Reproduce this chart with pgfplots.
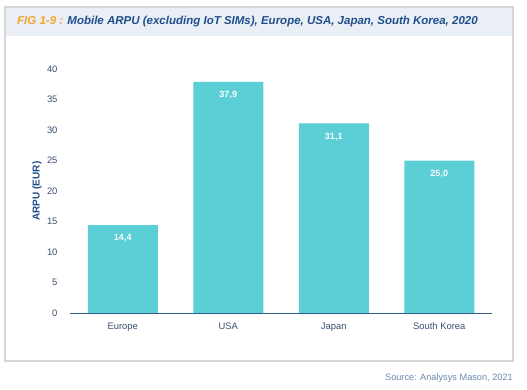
\documentclass[border=0pt]{standalone}
\usepackage{pgfplots}
\pgfplotsset{compat=1.18}
\usepackage{fontspec}
\setmainfont{Liberation Sans}
\definecolor{framegray}{HTML}{D4D6D8}
\definecolor{bandblue}{HTML}{E9EFF5}
\definecolor{figorange}{HTML}{F4A52A}
\definecolor{titleblue}{HTML}{1F4E8C}
\definecolor{barcol}{HTML}{5BCFD5}
\definecolor{axisblue}{HTML}{2E5E8E}
\definecolor{ticktext}{HTML}{3A4F70}
\definecolor{srcgray}{HTML}{6A8AAE}
\begin{document}
\begin{tikzpicture}[x=1pt,y=1pt]
\fill[white] (0,0) rectangle (527,389);
\fill[bandblue] (5,353) rectangle (513,382);
\draw[framegray, line width=1.2pt] (5,28) rectangle (513,382);
\node[anchor=west, inner sep=0pt] at (17,367) {\fontsize{11.5}{13}\selectfont\bfseries\itshape\textcolor{figorange}{FIG 1-9 :} \textcolor{titleblue}{Mobile ARPU (excluding IoT SIMs), Europe, USA, Japan, South Korea, 2020}};
\node[anchor=east, inner sep=0pt] at (513,11) {\fontsize{9.2}{10}\selectfont\color{srcgray}Source: Analysys Mason, 2021};
\begin{axis}[
  at={(70pt,76pt)}, anchor=south west,
  scale only axis, width=422pt, height=244pt,
  xmin=-0.5, xmax=3.5, ymin=0, ymax=40,
  axis lines*=left,
  y axis line style={draw=none},
  x axis line style={-, draw=none},
  ytick={0,5,...,40},
  xtick=data,
  xticklabels={Europe,USA,Japan,South Korea},
  major tick length=0pt,
  tick style={draw=none},
  ticklabel style={font=\fontsize{9.4}{11}\selectfont, text=ticktext},
  /pgf/number format/assume math mode=true,
  yticklabel style={xshift=-9pt},
  xticklabel style={yshift=-6pt},
  ylabel={\textcolor{titleblue}{\bfseries ARPU (EUR)}},
  ylabel style={font=\fontsize{8}{10}\selectfont},
  every axis y label/.style={at={(axis description cs:-0.078,0.5)}, rotate=90, anchor=center},
  clip=false,
]
\addplot[ybar, bar width=70pt, fill=barcol, draw=none,
  nodes near coords,
  nodes near coords style={anchor=north, yshift=-6pt, text=white, font=\fontsize{9}{10}\selectfont\bfseries,
    /pgf/number format/.cd, fixed, fixed zerofill, precision=1, use comma, assume math mode=true},
] coordinates {(0,14.4) (1,37.9) (2,31.1) (3,25.0)};
\draw[axisblue, line width=0.8pt] (axis cs:-0.5,0) -- (axis cs:3.5,0);
\end{axis}
\end{tikzpicture}
\end{document}
